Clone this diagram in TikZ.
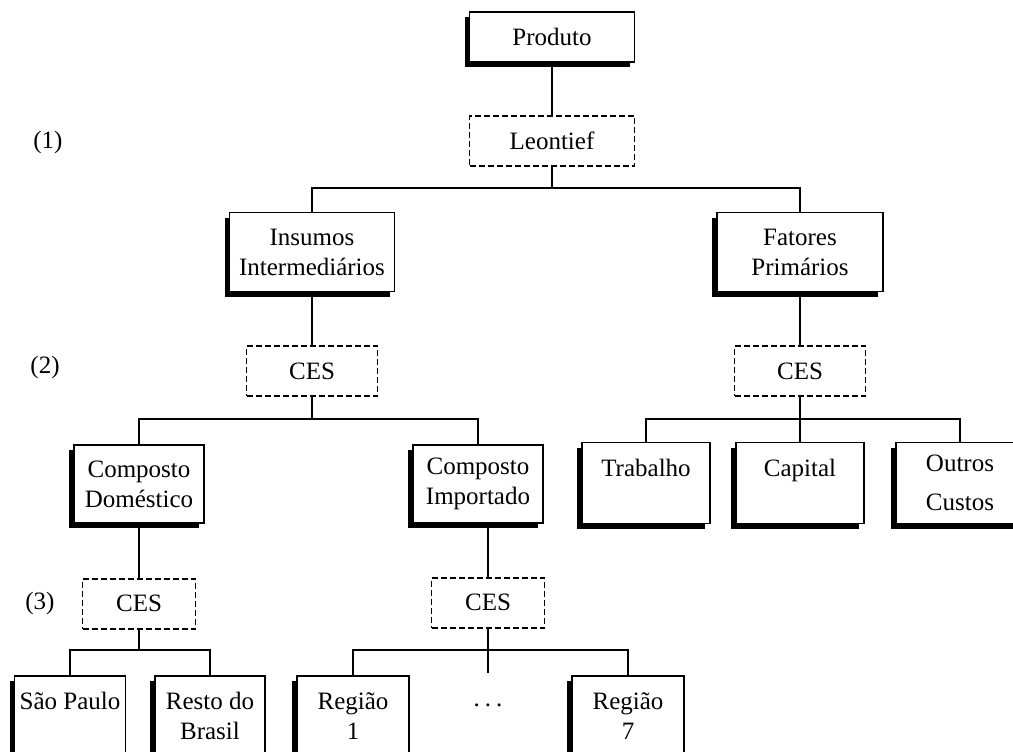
\documentclass[tikz,border=0pt]{standalone}
\usepackage{fontspec}
\setmainfont{Liberation Serif}
\usetikzlibrary{shadows, positioning}

\tikzset{
  caixa/.style={draw, line width=1.6pt, fill=white, align=center, inner sep=0pt,
    drop shadow={shadow xshift=-5pt, shadow yshift=-5pt, opacity=1, fill=black}},
  nivel/.style={draw, line width=1.8pt, dash pattern=on 6pt off 3pt, fill=white,
    minimum height=50pt, inner sep=0pt},
  liga/.style={line width=1.8pt},
}

\begin{document}
\begin{tikzpicture}[x=1pt, y=-1pt, font=\fontsize{25}{30}\selectfont]
	\useasboundingbox (0,0) rectangle (1013,752);
	\clip (0,0) rectangle (1013,752);

	\node[caixa, minimum width=165pt, minimum height=50pt] (prod) at (552,37) {Produto};
	\node[nivel, minimum width=165pt, below = 52pt of prod] (leon) {Leontief};

	\node[caixa, minimum width=165pt, minimum height=79pt] (ins) at (312,252) {Insumos\\Intermediários};
	\node[caixa, minimum width=166pt, minimum height=79pt] (fat) at (800,252) {Fatores\\Primários};

	\node[nivel, minimum width=131pt, below = 53pt of ins] (ces2l) {CES};
	\node[nivel, minimum width=131pt, below = 53pt of fat] (ces2r) {CES};

	\node[caixa, minimum width=130pt, minimum height=78pt] (cdom) at (139,484) {Composto\\Doméstico};
	\node[caixa, minimum width=130pt, minimum height=78pt] (cimp) at (478,484) {Composto\\Importado};

	\node[caixa, minimum width=128pt, minimum height=81pt] (trab) at (646,483) {Trabalho\\~};
	\node[caixa, minimum width=128pt, minimum height=81pt] (cap) at (800,483) {Capital\\~};
	\node[caixa, minimum width=128pt, minimum height=81pt] (outr) at (960,483) {Outros\\[9pt]Custos};

	\node[nivel, minimum width=113pt, below = 54pt of cdom] (ces3l) {CES};
	\node[nivel, minimum width=113pt, below = 53pt of cimp, xshift=10pt] (ces3r) {CES};

	\node[caixa, anchor=north, minimum width=111pt, minimum height=80pt] (sp) at (70,675) {São Paulo\\~};
	\node[caixa, anchor=north, minimum width=110pt, minimum height=80pt] (rb) at (210,675) {Resto do\\Brasil};
	\node[caixa, anchor=north, minimum width=112pt, minimum height=80pt] (r1) at (353,675) {Região\\1};
	\node[caixa, anchor=north, minimum width=112pt, minimum height=80pt] (r7) at (628,675) {Região\\7};
	\node[inner sep=0pt, anchor=base] (dots) at (488,706) {.\hspace{5pt}.\hspace{5pt}.};

	% niveis
	\node (n1) at (48,142) {(1)};
	\node (n2) at (45,367) {(2)};
	\node (n3) at (40,603) {(3)};

	% ligacoes
	\coordinate (b1) at (552,188);
	\coordinate (b2l) at (312,419);
	\coordinate (b2r) at (800,419);
	\coordinate (b3l) at (139,650);
	\coordinate (b3r) at (488,650);
	\coordinate (pontas) at (488,673);

	\draw[liga] (prod.south) -- (leon.north);
	\draw[liga] (leon.south) -- (b1);
	\draw[liga] (ins.north) |- (b1) -| (fat.north);

	\draw[liga] (ins.south) -- (ces2l.north);
	\draw[liga] (ces2l.south) -- (b2l);
	\draw[liga] (cdom.north) |- (b2l) -| (cimp.north);

	\draw[liga] (fat.south) -- (ces2r.north);
	\draw[liga] (ces2r.south) -- (b2r);
	\draw[liga] (trab.north) |- (b2r) -| (outr.north);
	\draw[liga] (b2r) -- (cap.north);

	\draw[liga] (cdom.south) -- (ces3l.north);
	\draw[liga] (ces3l.south) -- (b3l);
	\draw[liga] (sp.north) |- (b3l) -| (rb.north);

	\draw[liga] (ces3r.north) -- (ces3r.north |- cimp.south);
	\draw[liga] (ces3r.south) -- (b3r);
	\draw[liga] (r1.north) |- (b3r) -| (r7.north);
	\draw[liga] (b3r) -- (pontas);
\end{tikzpicture}
\end{document}
